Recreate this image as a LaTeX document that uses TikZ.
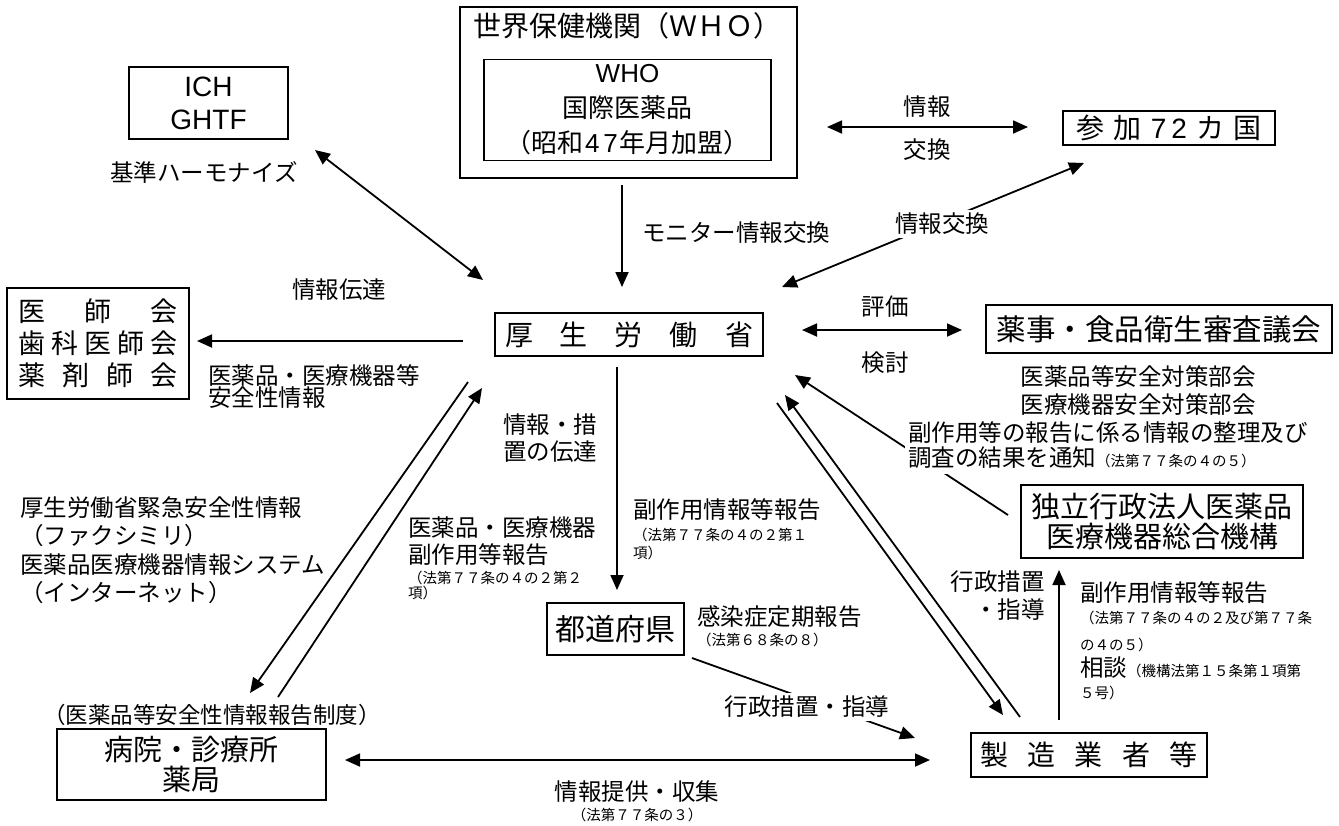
\documentclass[tikz,border=0pt]{standalone}
\usepackage{fontspec}
\setmainfont{Noto Sans CJK JP}
\newfontfamily\lat{Liberation Sans}
\usetikzlibrary{arrows.meta}
\newcommand\fz[2]{\fontsize{#1pt}{#2pt}\selectfont}
\begin{document}
\begin{tikzpicture}[x=1pt,y=-1pt,
  box/.style={draw,line width=1.5pt,inner sep=0pt,align=center},
  arr/.style={line width=1.8pt,-{Triangle[length=15pt,width=13pt]}},
  darr/.style={line width=1.8pt,{Triangle[length=15pt,width=13pt]}-{Triangle[length=15pt,width=13pt]}},
  lbl/.style={inner sep=0pt,align=left,font=\fz{23.5}{28}},
  sml/.style={inner sep=0pt,align=left,font=\fz{14.5}{18}},
  wlbl/.style={inner sep=3pt,fill=white,align=left,font=\fz{23.5}{25}}]
\useasboundingbox (0,0) rectangle (1339,825);

% ---- boxes ----
\node[box,minimum width=159pt,minimum height=72pt,font=\fz{28}{33}\lat] (ich) at (208.5,103) {ICH\\GHTF};
\node[box,minimum width=337pt,minimum height=171pt] (who) at (628.5,92.5) {};
\node[inner sep=0pt,font=\fz{28}{30}] (whot) at (627,26) {世界保健機関（ＷＨＯ）};
\node[box,minimum width=287pt,minimum height=101pt,font=\fz{26}{35}] (whoi) at (627.5,110) {{\lat WHO}\\国際医薬品\\（昭和{\lat\kern2pt 4\kern4pt 7\kern2pt}年月加盟）};
\node[box,minimum width=212pt,minimum height=34pt,font=\fz{28}{30}] (sanka) at (1169,128) {参\kern9pt 加\kern9pt {\lat 7\kern5pt 2}\kern9pt カ\kern9pt 国};
\node[box,minimum width=268pt,minimum height=43pt,font=\fz{28}{30}] (kosei) at (629,334.5) {厚\kern27pt 生\kern27pt 労\kern27pt 働\kern27pt 省};
\node[box,minimum width=182pt,minimum height=111pt,font=\fz{27}{32}] (ishi) at (98,343.5)
  {\makebox[160pt]{医\hfill 師\hfill 会}\\\makebox[160pt]{歯\hfill 科\hfill 医\hfill 師\hfill 会}\\\makebox[160pt]{薬\hfill 剤\hfill 師\hfill 会}};
\node[box,minimum width=346pt,minimum height=48pt,font=\fz{29.5}{32}] (yakuji) at (1159,329) {薬事・食品衛生審査議会};
\node[box,minimum width=282pt,minimum height=73pt,font=\fz{29}{30}] (kiko) at (1162,521.5) {独立行政法人医薬品\\医療機器総合機構};
\node[box,minimum width=137pt,minimum height=52pt,font=\fz{30}{32}] (todo) at (615.5,629) {都道府県};
\node[box,minimum width=236pt,minimum height=44pt,font=\fz{28}{30}] (seizo) at (1089,755) {製\kern19.5pt 造\kern19.5pt 業\kern19.5pt 者\kern19.5pt 等};
\node[box,minimum width=269pt,minimum height=71pt,font=\fz{29}{30}] (byoin) at (191.5,764.5) {病院・診療所\\薬局};

% ---- connector end points ----
\coordinate (w1) at (622,185);   \coordinate (k1) at (622,287);
\coordinate (w2) at (827,127);   \coordinate (s1) at (1028,127);
\coordinate (k2) at (782,287);   \coordinate (s2) at (1084,163);
\coordinate (i1) at (315,150);   \coordinate (k3) at (483,280);
\coordinate (k4) at (463,341);   \coordinate (d1) at (197,341);
\coordinate (k5) at (468,382);   \coordinate (b1) at (250,693);
\coordinate (b2) at (278,697);   \coordinate (k6) at (482,388);
\coordinate (k7) at (617,367);   \coordinate (t1) at (617,590);
\coordinate (t2) at (692,658);   \coordinate (m1) at (915,738);
\coordinate (b3) at (345,760);   \coordinate (m2) at (930,760);
\coordinate (k8) at (777,403);   \coordinate (m3) at (1003,715);
\coordinate (m4) at (1020,717);  \coordinate (k9) at (785,395);
\coordinate (m5) at (1059,720);  \coordinate (p1) at (1059,570);
\coordinate (p2) at (1008,515);  \coordinate (k10) at (795,375);
\coordinate (k11) at (802,330);  \coordinate (y1) at (962,330);

% ---- connectors ----
\draw[arr] (w1) -- (k1);
\draw[darr] (w2) -- (s1);
\draw[darr] (k2) -- (s2);
\draw[darr] (i1) -- (k3);
\draw[arr] (k4) -- (d1);
\draw[arr] (k5) -- (b1);
\draw[arr] (b2) -- (k6);
\draw[arr] (k7) -- (t1);
\draw[arr] (t2) -- (m1);
\draw[darr] (b3) -- (m2);
\draw[arr] (k8) -- (m3);
\draw[arr] (m4) -- (k9);
\draw[arr] (m5) -- (p1);
\draw[arr] (p2) -- (k10);
\draw[darr] (k11) -- (y1);

% ---- labels ----
\node[lbl] (lharm) at (204,172) {基準ハーモナイズ};
\node[lbl] (lmon) at (736,233) {モニター情報交換};
\node[lbl] (ljo) at (927,107) {情報};
\node[lbl] (lko) at (927,150) {交換};
\node[wlbl] (lx) at (942,224) {情報交換};
\node[lbl] (lden) at (339,290) {情報伝達};
\node[lbl,anchor=west,font=\fz{23.5}{22}] (lanz) at (208,387) {医薬品・医療機器等\\安全性情報};
\node[lbl] (lhyo) at (885,307) {評価};
\node[lbl] (lken) at (885,363) {検討};
\node[lbl,align=center] (lbu) at (1138,391) {医薬品等安全対策部会\\医療機器安全対策部会};
\node[wlbl,anchor=west,inner ysep=6pt] (ltsu) at (905,445) {副作用等の報告に係る情報の整理及び\\調査の結果を通知{\fz{14.5}{18}（法第７７条の４の５）}};
\node[lbl,anchor=west,font=\fz{23.5}{27}] (lsochi) at (503,438) {情報・措\\置の伝達};
\node[lbl,anchor=west,font=\fz{23.5}{27}] (lfuku) at (408,541.5) {医薬品・医療機器\\副作用等報告};
\node[sml,anchor=west,font=\fz{14.5}{15}] (lfuku2) at (408,585.5) {（法第７７条の４の２第２\\項）};
\node[lbl,anchor=west] (lfk) at (633,510) {副作用情報等報告};
\node[sml,anchor=west] (lfk2) at (633,544) {（法第７７条の４の２第１\\項）};
\node[lbl,anchor=west] (lkan) at (697,617) {感染症定期報告};
\node[sml,anchor=west] (lkan2) at (697,640) {（法第６８条の８）};
\node[wlbl] (lgyo) at (807,707) {行政措置・指導};
\node[lbl,anchor=west,font=\fz{23.5}{28.5}] (lkin) at (20,550) {厚生労働省緊急安全性情報\\（ファクシミリ）\\医薬品医療機器情報システム\\（インターネット）};
\node[lbl,font=\fz{22.5}{24}] (lsei) at (212,715) {（医薬品等安全性情報報告制度）};
\node[lbl] (lteik) at (637,792) {情報提供・収集};
\node[sml] (lteik2) at (637,815) {（法第７７条の３）};
\node[lbl,anchor=east,align=right] (lgyo2) at (1045,596) {行政措置\\・指導};
\node[lbl,anchor=west] (lfk3) at (1080,593) {副作用情報等報告};
\node[sml,anchor=west,font=\fz{14.5}{27}] (lfk4) at (1080,631.5) {（法第７７条の４の２及び第７７条\\の４の５）};
\node[lbl,anchor=west] (lsou) at (1080,668) {相談{\fz{14.5}{18}（機構法第１５条第１項第}};
\node[sml,anchor=west] (lsou2) at (1080,693) {５号）};
\end{tikzpicture}
\end{document}
